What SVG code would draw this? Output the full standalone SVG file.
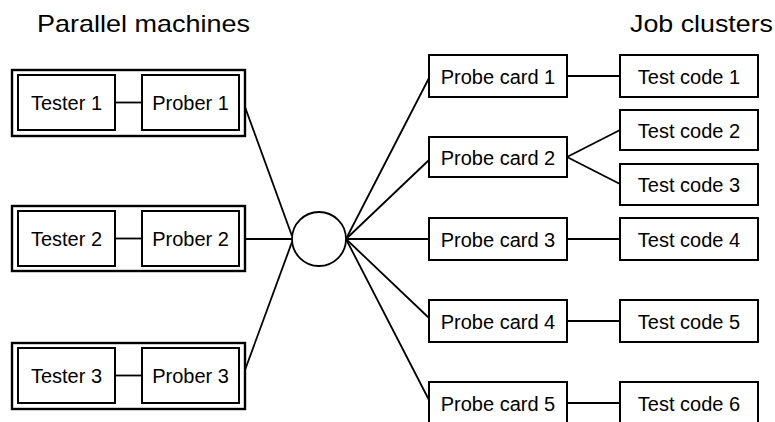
<svg xmlns="http://www.w3.org/2000/svg" width="775" height="422" viewBox="0 0 775 422">
  <style>
    .frame { fill: none; stroke: #000; stroke-width: 2.4; }
    .box { fill: #fff; stroke: #000; stroke-width: 2; }
    .link { fill: none; stroke: #000; stroke-width: 1.8; }
    .hub { fill: #fff; stroke: #000; stroke-width: 1.8; }
    .lbl { font-family: "Liberation Sans", Arial, sans-serif; font-size: 20px; fill: #000; text-anchor: middle; }
    .title { font-family: "Liberation Sans", Arial, sans-serif; font-size: 24px; fill: #000; }
  </style>
  <rect width="775" height="422" fill="#fff"/>

  <!-- column headings -->
  <text class="title" x="37" y="32" textLength="213" lengthAdjust="spacingAndGlyphs">Parallel machines</text>
  <text class="title" x="630" y="32" textLength="143" lengthAdjust="spacingAndGlyphs">Job clusters</text>

  <!-- connectors -->
  <g id="connectors">
    <line class="link" x1="115" y1="102.5" x2="142" y2="102.5"/>
    <line class="link" x1="115" y1="238.5" x2="142" y2="238.5"/>
    <line class="link" x1="115" y1="375.5" x2="142" y2="375.5"/>
    <line class="link" x1="245" y1="107" x2="292" y2="236"/>
    <line class="link" x1="245" y1="239" x2="292" y2="239"/>
    <line class="link" x1="245" y1="370" x2="292" y2="242"/>
    <line class="link" x1="346" y1="239" x2="429" y2="78"/>
    <line class="link" x1="346" y1="239" x2="429" y2="160"/>
    <line class="link" x1="346" y1="239" x2="429" y2="239"/>
    <line class="link" x1="346" y1="239" x2="429" y2="318"/>
    <line class="link" x1="346" y1="239" x2="429" y2="400"/>
    <line class="link" x1="567" y1="76" x2="620" y2="76"/>
    <line class="link" x1="567" y1="157" x2="620" y2="130"/>
    <line class="link" x1="567" y1="157" x2="620" y2="184"/>
    <line class="link" x1="567" y1="239" x2="620" y2="239"/>
    <line class="link" x1="567" y1="321" x2="620" y2="321"/>
    <line class="link" x1="567" y1="403" x2="620" y2="403"/>
  </g>

  <!-- parallel machines -->
  <g id="machine1">
    <rect class="frame" x="12" y="70" width="233" height="66"/>
    <g id="tester1"><rect class="box" x="18" y="75" width="97" height="55"/><text class="lbl" x="66.5" y="110">Tester 1</text></g>
    <g id="prober1"><rect class="box" x="142" y="75" width="97" height="55"/><text class="lbl" x="190.5" y="110">Prober 1</text></g>
  </g>
  <g id="machine2">
    <rect class="frame" x="12" y="206" width="233" height="65"/>
    <g id="tester2"><rect class="box" x="18" y="211" width="97" height="55"/><text class="lbl" x="66.5" y="246">Tester 2</text></g>
    <g id="prober2"><rect class="box" x="142" y="211" width="97" height="55"/><text class="lbl" x="190.5" y="246">Prober 2</text></g>
  </g>
  <g id="machine3">
    <rect class="frame" x="12" y="343" width="233" height="66"/>
    <g id="tester3"><rect class="box" x="18" y="348" width="97" height="55"/><text class="lbl" x="66.5" y="383">Tester 3</text></g>
    <g id="prober3"><rect class="box" x="142" y="348" width="97" height="55"/><text class="lbl" x="190.5" y="383">Prober 3</text></g>
  </g>

  <!-- hub -->
  <g id="hub"><circle class="hub" cx="319" cy="239" r="27"/></g>

  <!-- probe cards -->
  <g id="probecard1"><rect class="box" x="429" y="55" width="138" height="42"/><text class="lbl" x="498" y="84">Probe card 1</text></g>
  <g id="probecard2"><rect class="box" x="429" y="137" width="138" height="40"/><text class="lbl" x="498" y="165">Probe card 2</text></g>
  <g id="probecard3"><rect class="box" x="429" y="218" width="138" height="42"/><text class="lbl" x="498" y="247">Probe card 3</text></g>
  <g id="probecard4"><rect class="box" x="429" y="300" width="138" height="42"/><text class="lbl" x="498" y="329">Probe card 4</text></g>
  <g id="probecard5"><rect class="box" x="429" y="382" width="138" height="44"/><text class="lbl" x="498" y="411">Probe card 5</text></g>

  <!-- job clusters -->
  <g id="testcode1"><rect class="box" x="620" y="55" width="138" height="42"/><text class="lbl" x="689" y="84">Test code 1</text></g>
  <g id="testcode2"><rect class="box" x="620" y="110" width="138" height="40"/><text class="lbl" x="689" y="138">Test code 2</text></g>
  <g id="testcode3"><rect class="box" x="620" y="164" width="138" height="41"/><text class="lbl" x="689" y="192">Test code 3</text></g>
  <g id="testcode4"><rect class="box" x="620" y="218" width="138" height="42"/><text class="lbl" x="689" y="247">Test code 4</text></g>
  <g id="testcode5"><rect class="box" x="620" y="300" width="138" height="42"/><text class="lbl" x="689" y="329">Test code 5</text></g>
  <g id="testcode6"><rect class="box" x="620" y="382" width="138" height="44"/><text class="lbl" x="689" y="411">Test code 6</text></g>
</svg>
